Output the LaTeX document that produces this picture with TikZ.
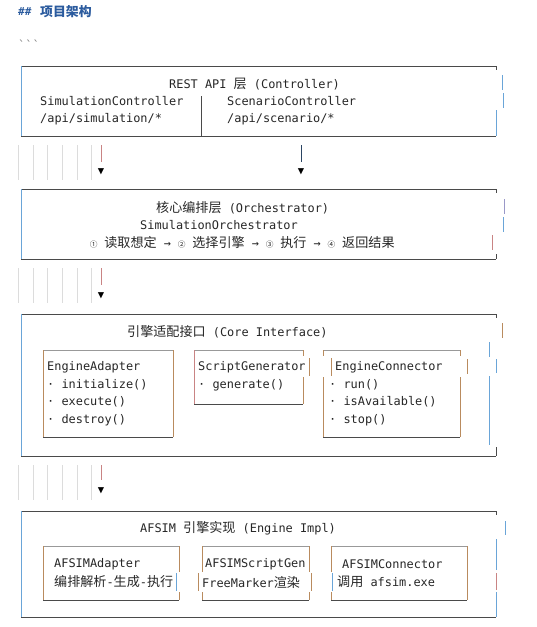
\documentclass[tikz,border=0pt]{standalone}
\usepackage{fontspec}
\setmonofont{DejaVu Sans Mono}
\newfontfamily\cjk{Noto Sans CJK SC}[Scale=1.1]
\newcommand{\zh}[1]{{\cjk #1}}
\newcommand{\cnum}[1]{\makebox[7pt]{\fontsize{7}{7}\cjk #1}}
\definecolor{txt}{HTML}{262626}
\definecolor{edge}{HTML}{4A4A4A}
\definecolor{lightedge}{HTML}{999999}
\definecolor{blueb}{HTML}{6AA5D8}
\definecolor{brownb}{HTML}{B98B5E}
\definecolor{redb}{HTML}{C98484}
\definecolor{purpb}{HTML}{9A98C8}
\definecolor{guide}{HTML}{DCDCDC}
\definecolor{head}{HTML}{2B5B9E}
\definecolor{navy}{HTML}{2B4563}
\tikzset{
  lbl/.style={anchor=west, inner sep=0pt, text=txt,
    font=\ttfamily\fontsize{11.9}{14}\selectfont},
  tip/.style={inner sep=0pt, text=black, font=\ttfamily\fontsize{10.5}{10}\selectfont},
  hline/.style={edge, line width=0.8pt},
  topline/.style={lightedge, line width=0.8pt},
  bbar/.style={blueb, line width=0.9pt},
  nbar/.style={brownb, line width=0.9pt},
  rbar/.style={redb, line width=0.9pt},
  guideline/.style={guide, line width=0.6pt}
}

\begin{document}
\begin{tikzpicture}[x=1pt, y=-1pt]
\useasboundingbox (0,0) rectangle (536,627);

% Heading
\node[anchor=west, inner sep=0pt, text=head, font=\ttfamily\bfseries\fontsize{11}{12}\selectfont] (hash) at (18,12) {\#\#};
\node[anchor=west, inner sep=0pt, text=head, font=\cjk\bfseries\fontsize{11.7}{14}\selectfont] (title) at (40,12) {项目架构};
\node[lbl, text=gray] (fence) at (18,45) {```};

% REST API layer
\draw[hline] (21,66) -- (496,66);
\draw[hline] (21,136) -- (496,136);
\draw[bbar] (21,66) -- (21,136);
\draw[hline] (496,66) -- (496,70);
\draw[bbar] (502,75) -- (502,90);
\draw[bbar] (503,93) -- (503,108);
\draw[bbar] (496,110) -- (496,136);
\draw[edge, line width=0.8pt] (201,96) -- (201,136);
\node[lbl] (restTitle) at (169,84) {REST API \zh{层} (Controller)};
\node[lbl] (simCtl) at (40,101) {SimulationController};
\node[lbl] (simApi) at (40,119) {/api/simulation/*};
\node[lbl] (scnCtl) at (227,101) {ScenarioController};
\node[lbl] (scnApi) at (227,119) {/api/scenario/*};

% arrows to orchestrator
\foreach \x in {18,33,47,62,77,91} \draw[guideline] (\x,145) -- (\x,180);
\coordinate (a1s) at (101,145);
\coordinate (a1e) at (101,162);
\draw[rbar] (a1s) -- (a1e);
\node[tip] (a1tip) at (101,172) {▼};
\coordinate (a2s) at (301,145);
\coordinate (a2e) at (301,162);
\draw[navy, line width=0.9pt] (a2s) -- (a2e);
\node[tip] (a2tip) at (301,172) {▼};

% Orchestrator layer
\draw[hline] (21,189) -- (496,189);
\draw[hline] (21,259) -- (496,259);
\draw[bbar] (21,189) -- (21,259);
\draw[hline] (496,189) -- (496,193);
\draw[purpb, line width=0.9pt] (504,199) -- (504,214);
\draw[bbar] (503,217) -- (503,232);
\draw[rbar] (492,235) -- (492,250);
\draw[hline] (496,254) -- (496,259);
\node[lbl] (orchTitle) at (156,208) {\zh{核心编排层} (Orchestrator)};
\node[lbl] (orchName) at (140,225) {SimulationOrchestrator};
\node[lbl] (orchSteps) at (90,243) {\cnum{①} \zh{读取想定} → \cnum{②} \zh{选择引擎} → \cnum{③} \zh{执行} → \cnum{④} \zh{返回结果}};

% arrow to core interface
\foreach \x in {18,33,47,62,77,91} \draw[guideline] (\x,268) -- (\x,303);
\coordinate (a3s) at (101,268);
\coordinate (a3e) at (101,285);
\draw[rbar] (a3s) -- (a3e);
\node[tip] (a3tip) at (101,296) {▼};

% Core interface layer
\draw[hline] (21,314) -- (496,314);
\draw[hline] (21,456) -- (496,456);
\draw[bbar] (21,314) -- (21,456);
\draw[hline] (496,314) -- (496,318);
\draw[nbar] (502,323) -- (502,338);
\draw[bbar] (489,342) -- (489,357);
\draw[bbar] (496,359) -- (496,373);
\draw[bbar] (489,376) -- (489,445);
\draw[hline] (496,447) -- (496,456);
\node[lbl] (coreTitle) at (127,332) {\zh{引擎适配接口} (Core Interface)};

% EngineAdapter
\draw[topline] (43,350) -- (173,350);
\draw[hline] (43,437) -- (173,437);
\draw[nbar] (43,350) -- (43,437);
\draw[nbar] (173,350) -- (173,437);
\node[lbl] (adpName) at (47,367) {EngineAdapter};
\node[lbl] (adpInit) at (47,385) {· initialize()};
\node[lbl] (adpExec) at (47,402) {· execute()};
\node[lbl] (adpDest) at (47,420) {· destroy()};

% ScriptGenerator
\draw[topline] (194,350) -- (303,350);
\draw[hline] (194,404) -- (303,404);
\draw[rbar] (194,350) -- (194,404);
\draw[nbar] (303,350) -- (303,356);
\draw[nbar] (309,358) -- (309,376);
\draw[nbar] (303,377) -- (303,404);
\node[lbl] (genName) at (198,367) {ScriptGenerator};
\node[lbl] (genCall) at (198,385) {· generate()};

% EngineConnector
\draw[topline] (323,350) -- (460,350);
\draw[hline] (323,437) -- (460,437);
\draw[nbar] (323,350) -- (323,356);
\draw[nbar] (331,358) -- (331,376);
\draw[nbar] (323,377) -- (323,437);
\draw[nbar] (460,350) -- (460,356);
\draw[nbar] (467,359) -- (467,374);
\draw[nbar] (460,377) -- (460,437);
\node[lbl] (conName) at (335,367) {EngineConnector};
\node[lbl] (conRun) at (329,385) {· run()};
\node[lbl] (conAvail) at (329,402) {· isAvailable()};
\node[lbl] (conStop) at (329,420) {· stop()};

% arrow to engine impl
\foreach \x in {18,33,47,62,77,91} \draw[guideline] (\x,465) -- (\x,500);
\coordinate (a4s) at (101,465);
\coordinate (a4e) at (101,480);
\draw[rbar] (a4s) -- (a4e);
\node[tip] (a4tip) at (101,491) {▼};

% Engine impl layer
\draw[hline] (21,511) -- (496,511);
\draw[hline] (21,617) -- (496,617);
\draw[bbar] (21,511) -- (21,617);
\draw[hline] (496,511) -- (496,515);
\draw[bbar] (505,521) -- (505,535);
\draw[bbar] (496,539) -- (496,570);
\draw[rbar] (496,573) -- (496,590);
\draw[bbar] (496,592) -- (496,617);
\node[lbl] (implTitle) at (140,528) {AFSIM \zh{引擎实现} (Engine Impl)};

% AFSIMAdapter
\draw[topline] (43,546) -- (179,546);
\draw[hline] (43,600) -- (179,600);
\draw[nbar] (43,546) -- (43,600);
\draw[nbar] (179,546) -- (179,572);
\draw[bbar] (176,573) -- (176,591);
\draw[nbar] (179,592) -- (179,600);
\node[lbl] (afAdp) at (54,564) {AFSIMAdapter};
\node[lbl] (afAdpDesc) at (54,582) {\zh{编排解析}-\zh{生成}-\zh{执行}};

% AFSIMScriptGen
\draw[topline] (202,546) -- (309,546);
\draw[hline] (202,600) -- (309,600);
\draw[nbar] (202,546) -- (202,572);
\draw[nbar] (198,573) -- (198,591);
\draw[nbar] (202,592) -- (202,600);
\draw[nbar] (309,546) -- (309,572);
\draw[nbar] (311,573) -- (311,591);
\draw[nbar] (309,592) -- (309,600);
\node[lbl] (afGen) at (205,564) {AFSIMScriptGen};
\node[lbl] (afGenDesc) at (202,582) {FreeMarker\zh{渲染}};

% AFSIMConnector
\draw[topline] (331,546) -- (467,546);
\draw[hline] (331,600) -- (467,600);
\draw[nbar] (331,546) -- (331,572);
\draw[bbar] (332,573) -- (332,591);
\draw[nbar] (331,592) -- (331,600);
\draw[nbar] (467,546) -- (467,600);
\node[lbl] (afCon) at (342,564) {AFSIMConnector};
\node[lbl] (afConDesc) at (337,582) {\zh{调用} afsim.exe};
\end{tikzpicture}
\end{document}
